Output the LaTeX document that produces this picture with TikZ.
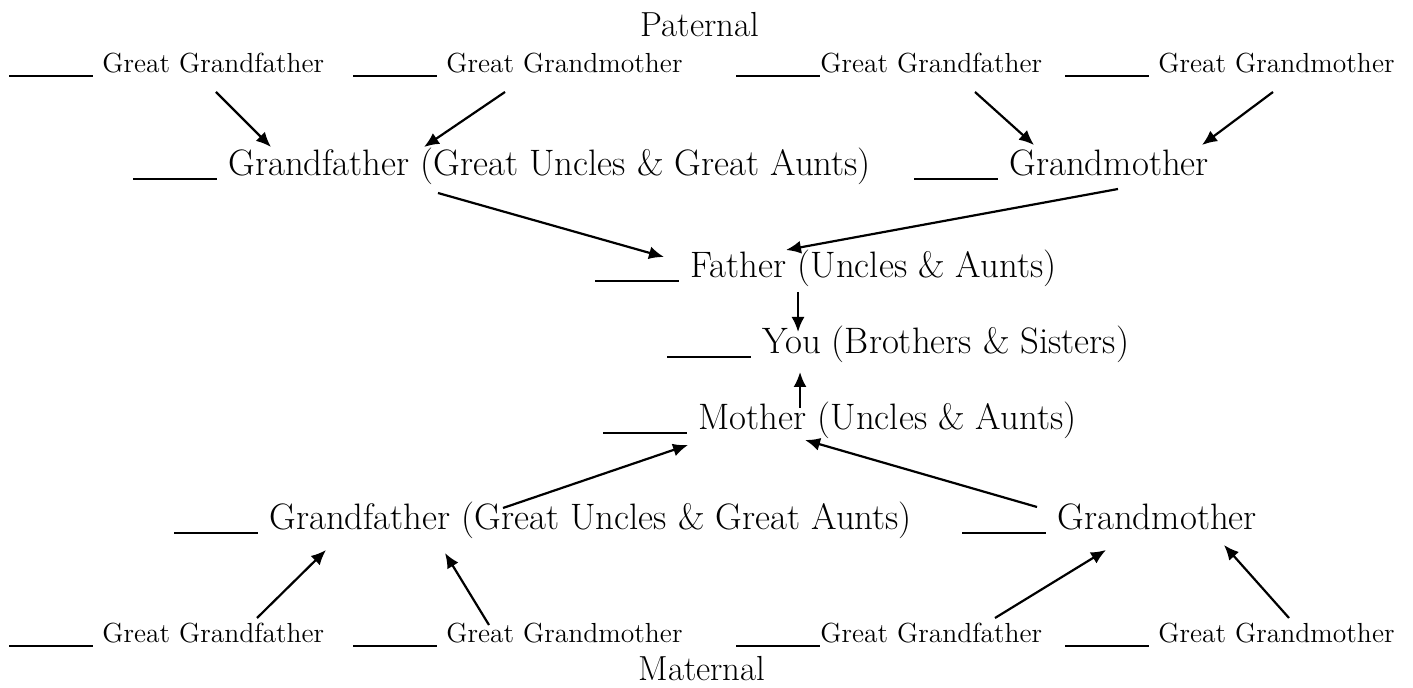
\documentclass[tikz,border=0pt]{standalone}
\usepackage{fontspec}
\usetikzlibrary{arrows.meta}
\newcommand{\blank}{\rule[-2pt]{42pt}{0.8pt}}
\tikzset{
  greatrow/.style={anchor=base west,inner sep=0pt,font=\fontsize{13.8}{16}\selectfont},
  namerow/.style={anchor=base west,inner sep=0pt,font=\fontsize{18.4}{22}\selectfont},
  sidelabel/.style={anchor=base,inner sep=0pt,font=\fontsize{17.4}{20}\selectfont},
}
\begin{document}
\begin{tikzpicture}[x=0.5pt,y=-0.5pt]
  \useasboundingbox (0,0) rectangle (1413,688);
  \node[sidelabel] (pat) at (700,37) {Paternal};
  \node[greatrow] (ggfA) at (9,73) {\blank{} Great Grandfather};
  \node[greatrow] (ggmA) at (353,73) {\blank{} Great Grandmother};
  \node[greatrow] (ggfB) at (736,73) {\blank{}Great Grandfather};
  \node[greatrow] (ggmB) at (1065,73) {\blank{} Great Grandmother};
  \node[namerow] (gfP) at (133,176) {\blank{} Grandfather (Great Uncles \& Great Aunts)};
  \node[namerow] (gmP) at (914,176) {\blank{} Grandmother};
  \node[namerow] (father) at (595,278) {\blank{} Father (Uncles \& Aunts)};
  \node[namerow] (you) at (667,354) {\blank{} You (Brothers \& Sisters)};
  \node[namerow] (mother) at (603,430) {\blank{} Mother (Uncles \& Aunts)};
  \node[namerow] (gfM) at (174,530) {\blank{} Grandfather (Great Uncles \& Great Aunts)};
  \node[namerow] (gmM) at (962,530) {\blank{} Grandmother};
  \node[greatrow] (ggfC) at (9,643) {\blank{} Great Grandfather};
  \node[greatrow] (ggmC) at (353,643) {\blank{} Great Grandmother};
  \node[greatrow] (ggfD) at (736,643) {\blank{}Great Grandfather};
  \node[greatrow] (ggmD) at (1065,643) {\blank{} Great Grandmother};
  \node[sidelabel] (mat) at (702,681) {Maternal};
  \begin{scope}[-{Latex[length=7.5pt,width=6.5pt]},line width=1.1pt]
    \draw ([shift={(207,19)}]ggfA.base west) to ([shift={(138,-29)}]gfP.base west);
    \draw ([shift={(152,19)}]ggmA.base west) to ([shift={(291,-29)}]gfP.base west);
    \draw ([shift={(239,19)}]ggfB.base west) to ([shift={(120,-31)}]gmP.base west);
    \draw ([shift={(208,19)}]ggmB.base west) to ([shift={(288,-31)}]gmP.base west);
    \draw ([shift={(305,17)}]gfP.base west) to ([shift={(69,-21)}]father.base west);
    \draw ([shift={(204,13)}]gmP.base west) to ([shift={(191,-28)}]father.base west);
    \draw ([shift={(203,14)}]father.base west) to ([shift={(131,-22)}]you.base west);
    \draw ([shift={(197,-22)}]mother.base west) to ([shift={(133,18)}]you.base west);
    \draw ([shift={(329,-22)}]gfM.base west) to ([shift={(85,15)}]mother.base west);
    \draw ([shift={(75,-23)}]gmM.base west) to ([shift={(202,10)}]mother.base west);
    \draw ([shift={(248,-25)}]ggfC.base west) to ([shift={(152,20)}]gfM.base west);
    \draw ([shift={(136,-18)}]ggmC.base west) to ([shift={(271,23)}]gfM.base west);
    \draw ([shift={(259,-25)}]ggfD.base west) to ([shift={(144,20)}]gmM.base west);
    \draw ([shift={(224,-25)}]ggmD.base west) to ([shift={(262,15)}]gmM.base west);
  \end{scope}
\end{tikzpicture}
\end{document}
